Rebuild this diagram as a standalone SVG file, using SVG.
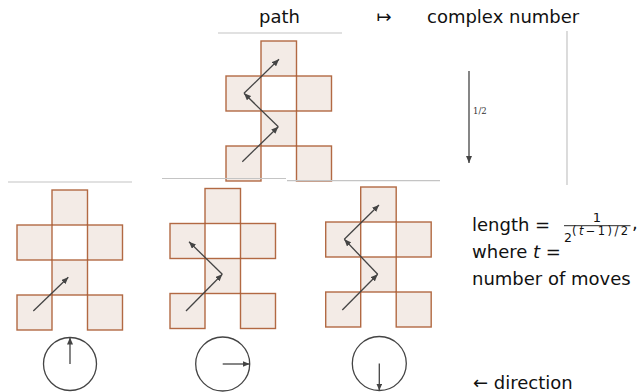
<svg xmlns="http://www.w3.org/2000/svg" width="640" height="392" viewBox="0 0 640 392">
<style>
.lbl{font-family:"DejaVu Sans","Liberation Sans",sans-serif;font-size:18px;fill:#111}
.sq{fill:#f3ebe6;stroke:#aa5a30;stroke-width:1.4;stroke-opacity:0.9}
.rule{stroke:#c4c4c4;stroke-width:1.2}
.mv{stroke:#444;stroke-width:1.3;fill:none;marker-end:url(#ah)}
.dial{fill:none;stroke:#444;stroke-width:1.3}
.small{font-family:"DejaVu Serif","Liberation Serif",serif;font-size:8.5px;fill:#333}
</style>
<defs>
<marker id="ah" markerUnits="userSpaceOnUse" markerWidth="8" markerHeight="6" refX="7" refY="3" orient="auto">
<path d="M0,0 L7,3 L0,6 Z" fill="#444"/>
</marker>
<g id="board">
<rect class="sq" x="35" y="0" width="35.5" height="35"/>
<rect class="sq" x="0" y="35" width="35" height="35"/>
<rect class="sq" x="70.5" y="35" width="35" height="35"/>
<rect class="sq" x="35" y="70" width="35.5" height="35"/>
<rect class="sq" x="0" y="105" width="35" height="35"/>
<rect class="sq" x="70.5" y="105" width="35" height="35"/>
</g>
</defs>

<g id="header">
<text class="lbl" x="259" y="23">path</text>
<text class="lbl" x="384" y="23" text-anchor="middle">↦</text>
<text class="lbl" x="427" y="23">complex number</text>
</g>

<g id="top-path">
<line class="rule" x1="218" y1="33" x2="342" y2="33"/>
<use href="#board" x="226" y="41"/>
</g>

<g id="complex-plane">
<line class="rule" x1="567" y1="31" x2="567" y2="185"/>
<text class="small" x="473" y="114">1/2</text>
</g>

<g id="panel-1">
<line class="rule" x1="8" y1="182" x2="132" y2="182"/>
<use href="#board" x="17" y="190"/>
<circle class="dial" cx="70" cy="364" r="26.5"/>
</g>

<g id="panel-2">
<line class="rule" x1="162" y1="178.5" x2="286" y2="178.5"/>
<use href="#board" x="170" y="188.5"/>
<circle class="dial" cx="222.7" cy="364" r="27"/>
</g>

<g id="panel-3">
<line class="rule" x1="287" y1="180.7" x2="440" y2="180.7"/>
<use href="#board" x="325.7" y="187"/>
<circle class="dial" cx="379.3" cy="363.5" r="27"/>
</g>

<g id="formula">
<text class="lbl" x="472" y="231">length =</text>
<text class="lbl" x="597" y="221.5" text-anchor="middle" style="font-size:13px">1</text>
<line x1="564" y1="225.7" x2="630.5" y2="225.7" stroke="#111" stroke-width="0.9"/>
<text class="lbl" x="564" y="241.5" style="font-size:12.5px">2</text>
<text class="lbl" x="572" y="235" style="font-size:11.5px" textLength="56" lengthAdjust="spacing">(<tspan font-style="italic">t</tspan>−1)/2</text>
<text class="lbl" x="632" y="229">,</text>
<text class="lbl" x="472" y="258">where <tspan font-style="italic">t</tspan> =</text>
<text class="lbl" x="472" y="285">number of moves</text>
<text class="lbl" x="473" y="389">← direction</text>
</g>

<g id="connectors">
<line class="mv" x1="242.3" y1="161.7" x2="278.3" y2="126.7"/>
<line class="mv" x1="278.3" y1="126.7" x2="244" y2="93.3"/>
<line class="mv" x1="244" y1="93.3" x2="279" y2="59.3"/>
<line class="mv" x1="469" y1="71" x2="469" y2="163"/>

<line class="mv" x1="33.3" y1="311" x2="68.3" y2="277.3"/>
<line class="mv" x1="70" y1="364" x2="70" y2="337.5"/>

<line class="mv" x1="186" y1="311" x2="222.3" y2="274.3"/>
<line class="mv" x1="222.3" y1="274.3" x2="189" y2="241.7"/>
<line class="mv" x1="222.7" y1="364" x2="249.7" y2="364"/>

<line class="mv" x1="342.3" y1="310" x2="377.7" y2="274.3"/>
<line class="mv" x1="377.7" y1="274.3" x2="344.3" y2="239.3"/>
<line class="mv" x1="344.3" y1="239.3" x2="379" y2="205"/>
<line class="mv" x1="379.3" y1="363.5" x2="379.3" y2="390.5"/>
</g>
</svg>
